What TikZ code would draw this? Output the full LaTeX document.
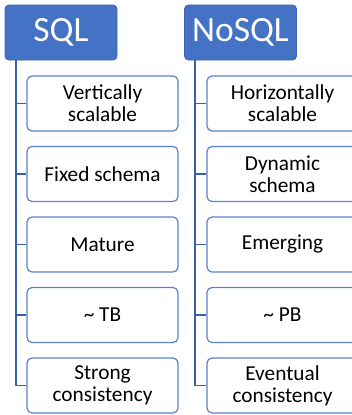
\documentclass[tikz,border=0pt]{standalone}
\usepackage{fontspec}
\setmainfont{Carlito}
\definecolor{hdrblue}{HTML}{4472C4}
\definecolor{hdrline}{HTML}{3A64B0}
\definecolor{itemline}{HTML}{5B82CC}
\definecolor{linkblue}{HTML}{3B5FA8}
\begin{document}
\begin{tikzpicture}[x=1pt,y=-1pt,
  header/.style={draw=hdrline,line width=0.8pt,fill=hdrblue,rounded corners=4pt,
    minimum width=112pt,minimum height=55pt,inner sep=0pt,text=white,
    font=\fontsize{35.5}{40}\selectfont},
  item/.style={draw=itemline,line width=1.2pt,fill=white,rounded corners=5pt,
    minimum width=151pt,minimum height=55pt,inner sep=0pt,align=center,
    font=\fontsize{21.3}{21.7}\selectfont},
  link/.style={draw=linkblue,line width=1.7pt}]
\useasboundingbox (0,0) rectangle (351,415);
\fill[white] (0,0) rectangle (351,415);
% column headers
\node[header] (sql) at (61,32.5) {SQL};
\node[header] (nosql) at (240.5,32.5) {NoSQL};
% trunk lines start under each header
\coordinate (st) at (15.7,60);
\coordinate (nt) at (195,60);
% SQL items
\node[item] (s1) at (102.5,103.5) {Vertically\\scalable};
\node[item] (s2) at (102.5,174) {Fixed schema};
\node[item] (s3) at (102.5,244.5) {Mature};
\node[item] (s4) at (102.5,315) {\textasciitilde\ TB};
\node[item] (s5) at (102.5,385.5) {Strong\\consistency};
% NoSQL items
\node[item] (n1) at (282.5,103.5) {Horizontally\\scalable};
\node[item] (n2) at (282.5,174) {Dynamic\\schema};
\node[item] (n3) at (282.5,244.5) {Emerging};
\node[item] (n4) at (282.5,315) {\textasciitilde\ PB};
\node[item] (n5) at (282.5,385.5) {Eventual\\consistency};
% connectors
\draw[link] (st) |- (s5.west);
\foreach \i in {1,...,4} \draw[link] (st |- s\i.west) -- (s\i.west);
\draw[link] (nt) |- (n5.west);
\foreach \i in {1,...,4} \draw[link] (nt |- n\i.west) -- (n\i.west);
\end{tikzpicture}
\end{document}
